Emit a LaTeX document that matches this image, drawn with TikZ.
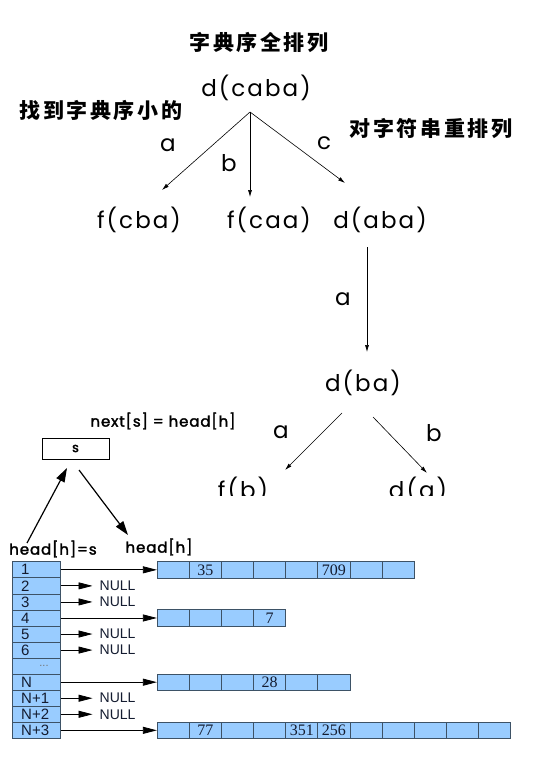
\documentclass[tikz,border=0pt]{standalone}
\usepackage{fontspec}
\setmainfont{Poppins}
\newfontfamily\geo{Poppins}[LetterSpace=9]
\newfontfamily\geob{Poppins}[LetterSpace=6,FakeBold=2]
\newfontfamily\cjk{Noto Sans CJK SC}[LetterSpace=12]
\newfontfamily\lsans{Liberation Sans}
\newfontfamily\lserif{Liberation Serif}
\usetikzlibrary{arrows.meta}
\definecolor{cellblue}{HTML}{99CCFF}
\definecolor{cellline}{HTML}{3D5266}
\definecolor{celltext}{HTML}{141C30}
\begin{document}
\begin{tikzpicture}[x=1pt,y=-1pt,
  treelbl/.style={font=\geo\fontsize{23}{23}\selectfont, inner sep=0pt, anchor=base},
  cjklbl/.style={font=\cjk\bfseries\fontsize{21}{21}\selectfont, inner sep=0pt},
  hashlbl/.style={font=\geob\fontsize{15}{15}\selectfont, inner sep=0pt},
  treearrow/.style={-{Latex[length=7pt,width=4pt]}, line width=0.6pt},
  bigarrow/.style={-{Triangle[length=14pt,width=9pt]}, line width=1.2pt},
  tabarrow/.style={-{Triangle[length=14pt,width=7pt]}, line width=0.8pt},
  tabcell/.style={draw=cellline, fill=cellblue, line width=0.8pt, minimum width=48pt,
    minimum height=16.05pt, inner sep=0pt, text width=31pt, align=left,
    font=\lsans\fontsize{15}{15}\selectfont, text=celltext},
  listcell/.style={draw=cellline, fill=cellblue, line width=0.8pt, minimum width=32.1pt,
    minimum height=16.4pt, inner sep=0pt, font=\lserif\fontsize{16}{16}\selectfont, text=celltext},
  nulllbl/.style={font=\lsans\fontsize{14}{14}\selectfont, inner sep=0pt, anchor=west, text=celltext}
]
\fill[white] (0,0) rectangle (544,760);
\useasboundingbox (0,0) rectangle (544,760);

% headings
\node[cjklbl] (title) at (259,43) {字典序全排列};
\node[cjklbl] (leftnote) at (101,110) {找到字典序小的};
\node[cjklbl] (rightnote) at (431,129) {对字符串重排列};

% tree
\node[treelbl] (caba) at (256,96) {d(caba)};
\node[treelbl] (cba) at (139,228) {f(cba)};
\node[treelbl] (caa) at (269,228) {f(caa)};
\node[treelbl] (aba) at (380,228) {d(aba)};
\node[treelbl] (ba) at (363,391) {d(ba)};
\begin{scope}
  \clip (0,0) rectangle (544,495.5);
  \node[treelbl] (fb) at (243,498) {f(b)};
  \node[treelbl] (da) at (418,498) {d(a)};
\end{scope}

\node[treelbl] (la1) at (168,151) {a};
\node[treelbl] (lb1) at (229,171.5) {b};
\node[treelbl] (lc1) at (324,149.3) {c};
\node[treelbl] (la2) at (343,305) {a};
\node[treelbl] (la3) at (281,438) {a};
\node[treelbl] (lb3) at (434,441.7) {b};

\coordinate (cabaS) at (250,112);
\coordinate (cbaN) at (162,190);
\coordinate (caaN) at (250,197);
\coordinate (abaN) at (345,183);
\coordinate (abaS) at (367,247);
\coordinate (baN) at (367,352);
\coordinate (baSL) at (342,413);
\coordinate (fbN) at (285,470);
\coordinate (baSR) at (373,417);
\coordinate (daN) at (427,473);
\draw[treearrow] (cabaS) -- (cbaN);
\draw[treearrow] (cabaS) -- (caaN);
\draw[treearrow] (cabaS) -- (abaN);
\draw[treearrow] (abaS) -- (baN);
\draw[treearrow] (baSL) -- (fbN);
\draw[treearrow] (baSR) -- (daN);

% hash insertion
\node[hashlbl] (nexts) at (163,421) {next[s] = head[h]};
\node[draw, line width=0.8pt, minimum width=67pt, minimum height=21pt, inner sep=0pt,
  font=\geob\fontsize{13}{13}\selectfont] (sbox) at (75.5,448.5) {s};
\node[hashlbl] (heads) at (53,549) {head[h]=s};
\node[hashlbl] (headh) at (159,547) {head[h]};
\coordinate (upT) at (27,543);
\coordinate (upH) at (67,468);
\coordinate (dnT) at (79,470);
\coordinate (dnH) at (128,535);
\draw[bigarrow] (upT) -- (upH);
\draw[bigarrow] (dnT) -- (dnH);

% head table
\foreach \lab [count=\i] in {1,2,3,4,5,6,{},N,N+1,N+2,N+3}
  \node[tabcell] (r\i) at (36.7,{553.775+16.05*\i}) {\lab};
\node[font=\lsans\fontsize{11}{11}\selectfont, text=black!55, inner sep=0pt] (dots) at (44,{553.775+16.05*7}) {...};

% lists
\foreach \v [count=\j] in {{},35,{},{},{},709,{},{}}
  \node[listcell] (la\j) at ({157.3+32.1*(\j-0.5)},{553.775+16.05*1}) {\v};
\foreach \v [count=\j] in {{},{},{},7}
  \node[listcell] (lb\j) at ({157.3+32.1*(\j-0.5)},{553.775+16.05*4}) {\v};
\foreach \v [count=\j] in {{},{},{},28,{},{}}
  \node[listcell] (lc\j) at ({157.3+32.1*(\j-0.5)},{553.775+16.05*8}) {\v};
\foreach \v [count=\j] in {{},77,{},{},351,256,{},{},{},{},{}}
  \node[listcell] (ld\j) at ({157.3+32.1*(\j-0.5)},{553.775+16.05*11}) {\v};

\draw[tabarrow] (r1.east) -- (la1.west);
\draw[tabarrow] (r4.east) -- (lb1.west);
\draw[tabarrow] (r8.east) -- (lc1.west);
\draw[tabarrow] (r11.east) -- (ld1.west);

\foreach \i in {2,3,5,6,9,10} {
  \node[nulllbl] (null\i) at (99.5,{553.775+16.05*\i}) {NULL};
  \draw[tabarrow, shorten >=7pt] (r\i.east) -- (null\i.west);
}
\end{tikzpicture}
\end{document}
